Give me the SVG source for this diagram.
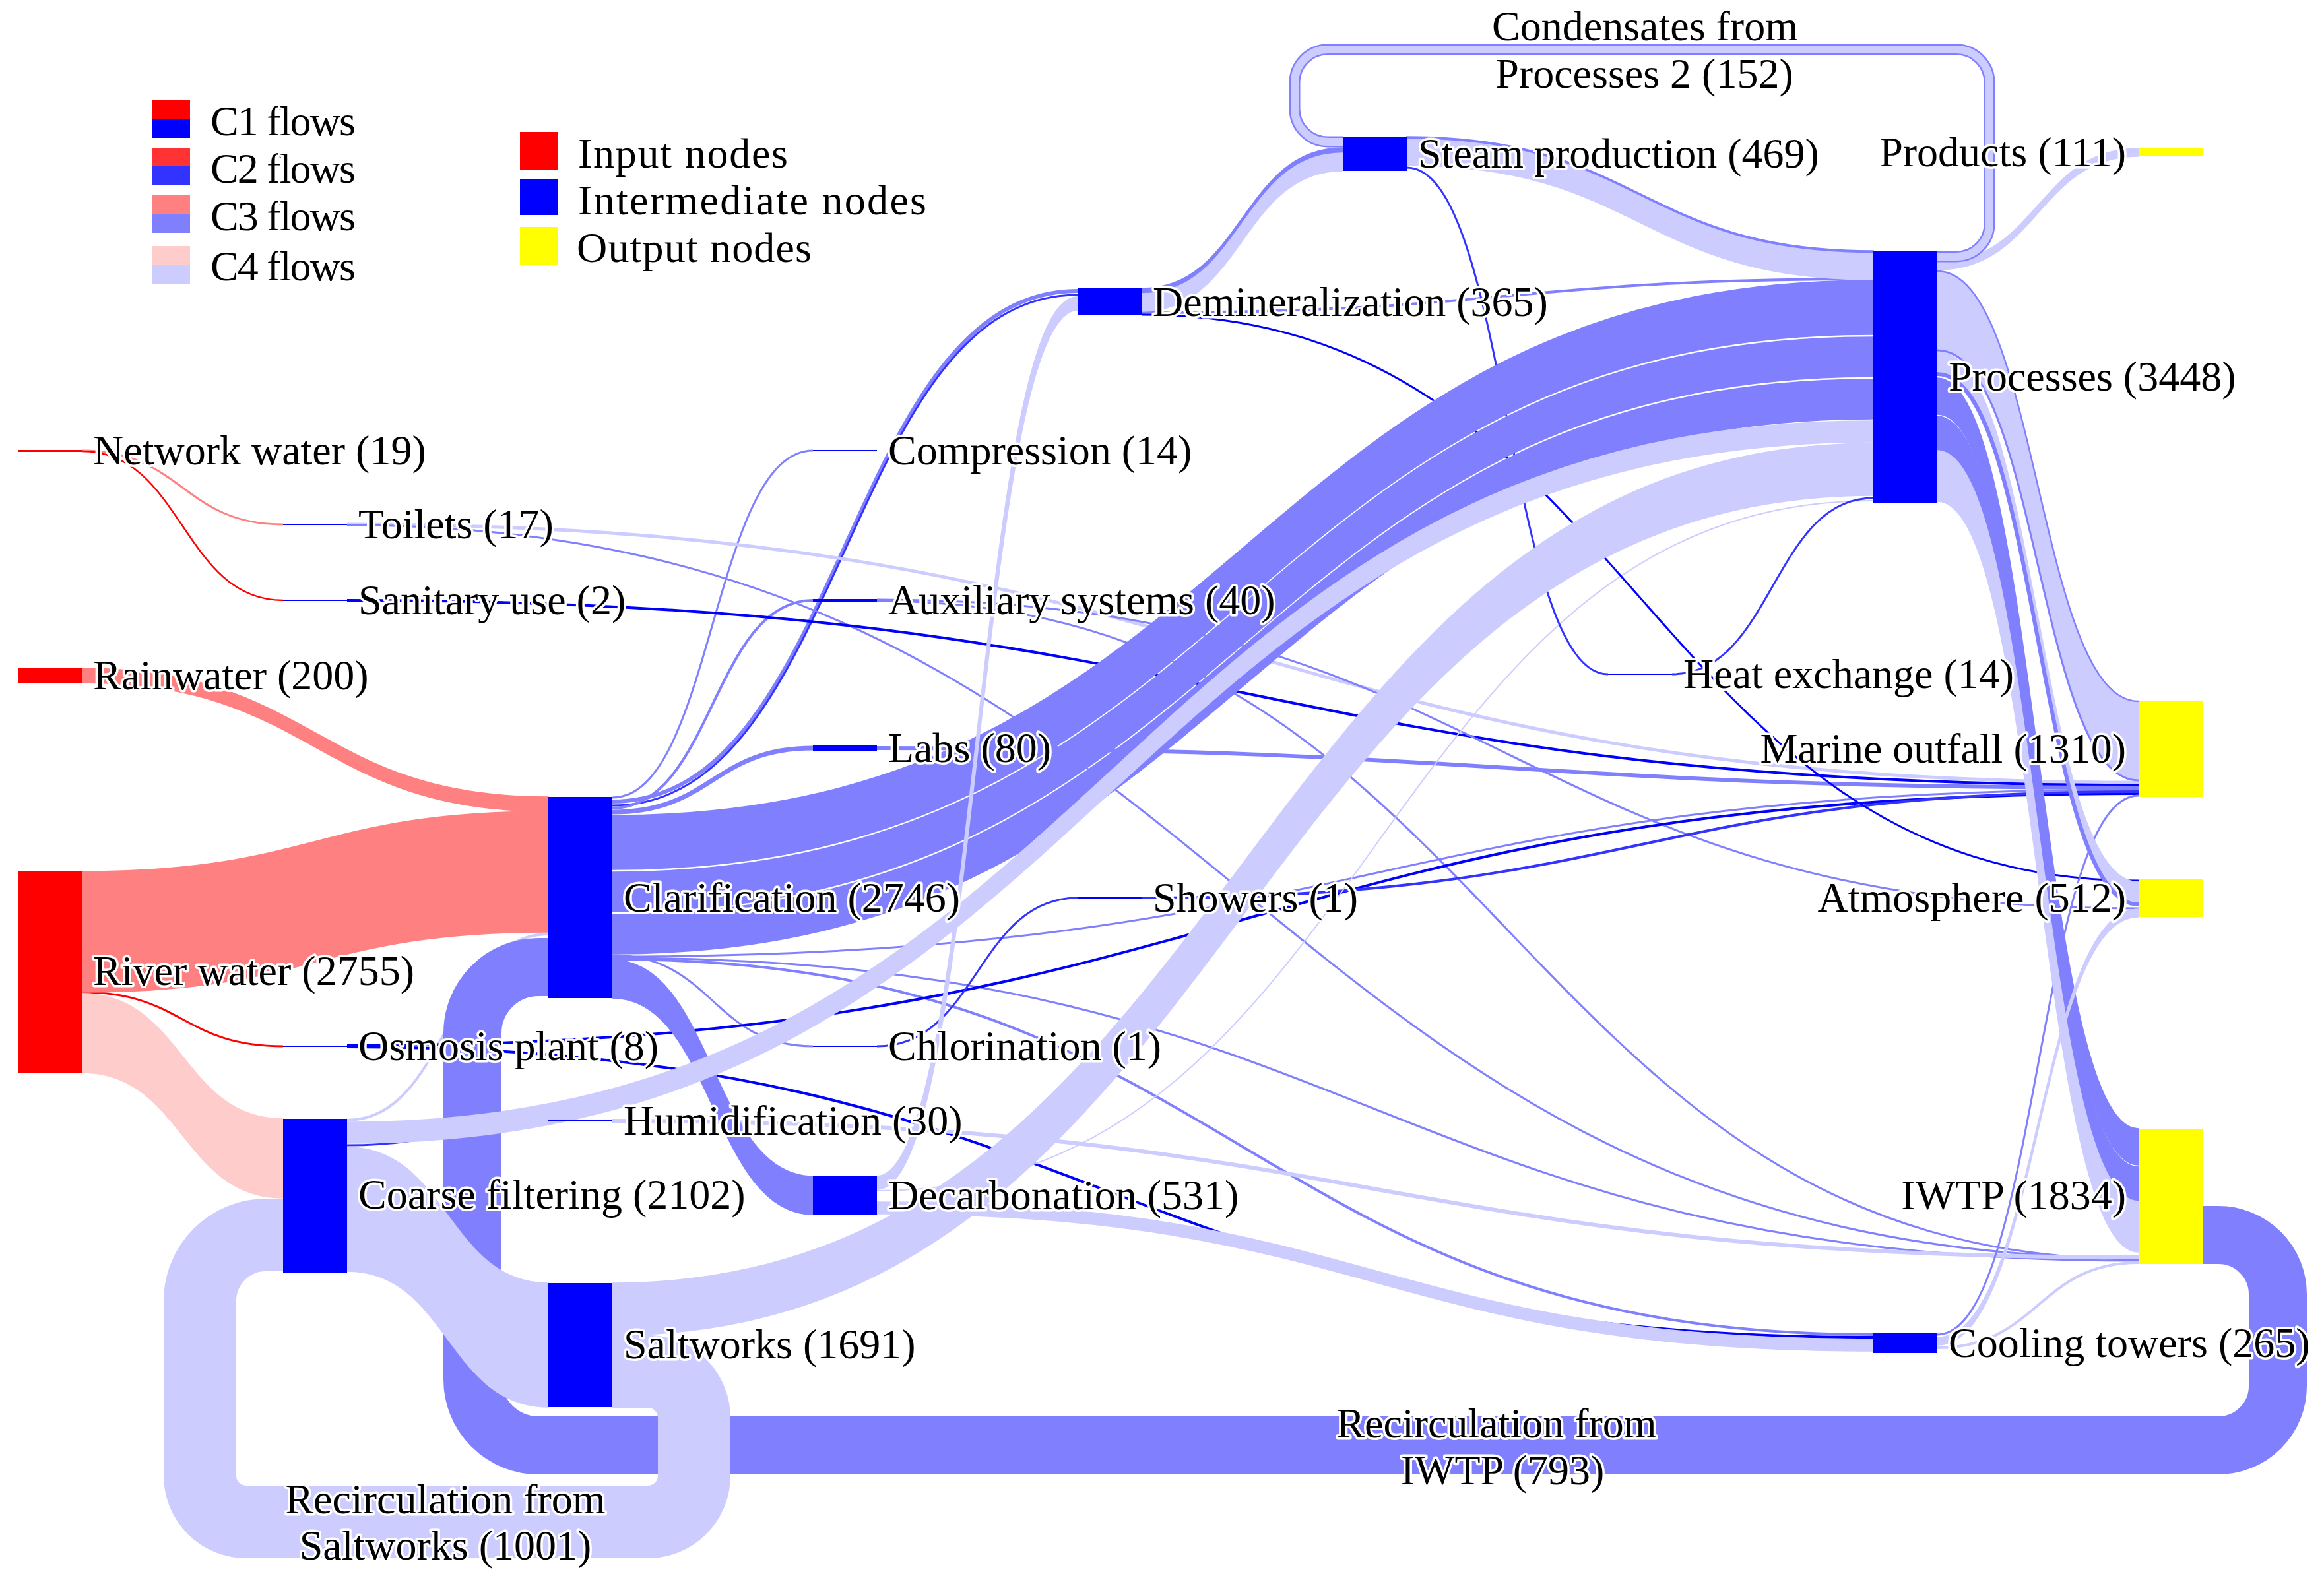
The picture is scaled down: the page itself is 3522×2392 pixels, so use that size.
<svg xmlns="http://www.w3.org/2000/svg" width="3522" height="2392" viewBox="0 0 3522 2392">
<style>
.t{font-family:"Liberation Serif","Times New Roman",serif;font-size:64px;fill:#000;stroke:#fff;stroke-width:7px;stroke-linejoin:round;paint-order:stroke}
.e{text-anchor:end}
.m{text-anchor:middle}
.s{fill:none}
.r1{stroke:#ff0000}.r3{stroke:#ff8080}
.b1{stroke:#0000ff}.b2{stroke:#3333ff}.b3{stroke:#8080ff}.b4{stroke:#ccccff}
.fr3{fill:#ff8080;stroke:#ff8080;stroke-width:1.5}
.fr4{fill:#ffcccc;stroke:#ffcccc;stroke-width:1.5}
.fb3{fill:#8080ff;stroke:#8080ff;stroke-width:1.5}
.fb4{fill:#ccccff;stroke:#ccccff;stroke-width:1.5}
.fb4t{fill:#ccccff;stroke:#ccccff;stroke-width:4}
.ni{fill:#ff0000}.nm{fill:#0000ff}.no{fill:#ffff00}
</style>
<rect width="3522" height="2392" fill="#fff"/>
<g id="legend">
<rect x="230" y="152" width="58" height="28" fill="#ff0000"/><rect x="230" y="180" width="58" height="29" fill="#0000ff"/>
<rect x="230" y="224" width="58" height="28" fill="#ff3333"/><rect x="230" y="252" width="58" height="29" fill="#3333ff"/>
<rect x="230" y="296" width="58" height="28" fill="#ff8080"/><rect x="230" y="324" width="58" height="29" fill="#8080ff"/>
<rect x="230" y="373" width="58" height="28" fill="#ffcccc"/><rect x="230" y="401" width="58" height="29" fill="#ccccff"/>
<text class="t" x="319" y="205" textLength="220" lengthAdjust="spacing">C1 flows</text>
<text class="t" x="319" y="277" textLength="220" lengthAdjust="spacing">C2 flows</text>
<text class="t" x="319" y="349" textLength="220" lengthAdjust="spacing">C3 flows</text>
<text class="t" x="319" y="425" textLength="220" lengthAdjust="spacing">C4 flows</text>
<rect x="788" y="200" width="57" height="57" fill="#ff0000"/>
<rect x="788" y="272" width="57" height="54" fill="#0000ff"/>
<rect x="788" y="344" width="57" height="57" fill="#ffff00"/>
<text class="t" x="876" y="254" textLength="318" lengthAdjust="spacing">Input nodes</text>
<text class="t" x="876" y="325" textLength="528" lengthAdjust="spacing">Intermediate nodes</text>
<text class="t" x="874" y="397" textLength="356" lengthAdjust="spacing">Output nodes</text>
</g>
<g id="links">
<g class="s">
<path class="r3" stroke-width="3" d="M124 683 C276.5 683 276.5 795 429 795"/>
<path class="r1" stroke-width="2.5" d="M124 684 C276.5 684 276.5 910 429 910"/>
<path class="r1" stroke-width="3" d="M124 1504 C276.5 1504 276.5 1586 429 1586"/>
<path class="b4" stroke-width="4" d="M526 1698 C678.5 1698 678.5 1416 831 1416"/>
<path class="b2" stroke-width="3" d="M526 1736 C678.5 1736 678.5 1699 831 1699"/>
<path class="b3" stroke-width="3" d="M928 1209 C1080 1209 1080 683 1232 683"/>
<path class="b3" stroke-width="6" d="M928 1215 C1280.5 1215 1280.5 441 1633 441"/>
<path class="b2" stroke-width="3" d="M928 1221 C1280.5 1221 1280.5 447 1633 447"/>
<path class="b3" stroke-width="4" d="M928 1225 C1080 1225 1080 910 1232 910"/>
<path class="b3" stroke-width="7" d="M928 1231 C1080 1231 1080 1134 1232 1134"/>
<path class="b3" stroke-width="3" d="M928 1448 C1080 1448 1080 1586 1232 1586"/>
<path class="b3" stroke-width="3" d="M928 1450 C2084.5 1450 2084.5 1197 3241 1197"/>
<path class="b3" stroke-width="3" d="M928 1452 C2084.5 1452 2084.5 1911 3241 1911"/>
<path class="b3" stroke-width="4" d="M928 1454 C1883.5 1454 1883.5 2023 2839 2023"/>
<path class="b4" stroke-width="5" d="M526 795 C1883.5 795 1883.5 1186 3241 1186"/>
<path class="b3" stroke-width="3" d="M526 796 C1883.5 796 1883.5 1907 3241 1907"/>
<path class="b1" stroke-width="4" d="M526 910 C1883.5 910 1883.5 1190 3241 1190"/>
<path class="b3" stroke-width="3" d="M1329 909 C2285 909 2285 1377 3241 1377"/>
<path class="b3" stroke-width="3" d="M1329 911 C2285 911 2285 1909 3241 1909"/>
<path class="b3" stroke-width="6" d="M1329 1134 C2285 1134 2285 1194 3241 1194"/>
<path class="b1" stroke-width="4" d="M526 1585 C1883.5 1585 1883.5 1203 3241 1203"/>
<path class="b1" stroke-width="4" d="M526 1587 C1682.5 1587 1682.5 2027 2839 2027"/>
<path class="b2" stroke-width="3" d="M1329 1586 C1481 1586 1481 1361 1633 1361"/>
<path class="b2" stroke-width="4" d="M1730 1361 C2485.5 1361 2485.5 1200 3241 1200"/>
<path class="b4" stroke-width="6" d="M928 1699 C2084.5 1699 2084.5 1906 3241 1906"/>
<path class="b4" stroke-width="2" d="M1329 1805 C2084 1805 2084 759 2839 759"/>
<path class="b3" stroke-width="4" d="M1730 474 C2284.5 474 2284.5 423 2839 423"/>
<path class="b1" stroke-width="3" d="M1730 477 C2485.5 477 2485.5 1335 3241 1335"/>
<path class="b2" stroke-width="3" d="M2132 254 C2284.5 254 2284.5 1022 2437 1022"/>
<path class="b2" stroke-width="3" d="M2534 1022 C2686.5 1022 2686.5 755 2839 755"/>
<path class="b3" stroke-width="3" d="M2936 2023 C3088.5 2023 3088.5 1206 3241 1206"/>
<path class="b4" stroke-width="4" d="M2936 2043 C3088.5 2043 3088.5 1914 3241 1914"/>
</g>
<path class="fr3" d="M124 1013 C477.5 1013 477.5 1208 831 1208 L831 1230 C477.5 1230 477.5 1035 124 1035Z"/>
<path class="fr3" d="M124 1321 C477.5 1321 477.5 1230 831 1230 L831 1413 C477.5 1413 477.5 1504 124 1504Z"/>
<path class="fr4" d="M124 1506 C276.5 1506 276.5 1696 429 1696 L429 1816 C276.5 1816 276.5 1626 124 1626Z"/>
<path class="fb3" d="M928 1236 C1883.5 1236 1883.5 425 2839 425 L2839 507 C1883.5 507 1883.5 1318 928 1318Z"/>
<path class="fb3" d="M928 1322 C1883.5 1322 1883.5 511 2839 511 L2839 571 C1883.5 571 1883.5 1382 928 1382Z"/>
<path class="fb3" d="M928 1386 C1883.5 1386 1883.5 575 2839 575 L2839 635 C1883.5 635 1883.5 1446 928 1446Z"/>
<path class="fb3" d="M928 1455 C1080 1455 1080 1783 1232 1783 L1232 1841 C1080 1841 1080 1513 928 1513Z"/>
<path class="fb3" d="M2936 573 C3088.5 573 3088.5 1711 3241 1711 L3241 1766 C3088.5 1766 3088.5 628 2936 628Z"/>
<path class="fb3" d="M2936 631 C3088.5 631 3088.5 1769 3241 1769 L3241 1821 C3088.5 1821 3088.5 683 2936 683Z"/>
<path class="fb3" d="M1730 437 C1882.5 437 1882.5 224 2035 224 L2035 232 C1882.5 232 1882.5 445 1730 445Z"/>
<path class="fb3" d="M2132 207 C2485.5 207 2485.5 380 2839 380 L2839 384 C2485.5 384 2485.5 211 2132 211Z"/>
<path id="loop-iwtp" class="s b3" stroke-width="88" d="M3338 1872 L3362 1872 A90 90 0 0 1 3452 1962 L3452 2101 A90 90 0 0 1 3362 2191 L816 2191 A100 100 0 0 1 716 2091 L716 1566 A100 100 0 0 1 816 1466 L831 1466"/>
<path class="fb4" d="M526 1701 C1682.5 1701 1682.5 638 2839 638 L2839 670 C1682.5 670 1682.5 1733 526 1733Z"/>
<path class="fb4" d="M526 1739 C678.5 1739 678.5 1945 831 1945 L831 2133 C678.5 2133 678.5 1927 526 1927Z"/>
<path class="fb4" d="M928 1945 C1883.5 1945 1883.5 672 2839 672 L2839 751 C1883.5 751 1883.5 2024 928 2024Z"/>
<path class="fb4" d="M2132 211 C2485.5 211 2485.5 384 2839 384 L2839 424 C2485.5 424 2485.5 251 2132 251Z"/>
<path class="fb4" d="M1730 445 C1882.5 445 1882.5 232 2035 232 L2035 259 C1882.5 259 1882.5 472 1730 472Z"/>
<path class="fb4t" d="M1329 1784 C1481 1784 1481 451 1633 451 L1633 469 C1481 469 1481 1802 1329 1802Z"/>
<path class="fb4" d="M1329 1822 C2084 1822 2084 2030 2839 2030 L2839 2048 C2084 2048 2084 1840 1329 1840Z"/>
<path class="fb4" d="M2936 411 C3088.5 411 3088.5 1063 3241 1063 L3241 1183 C3088.5 1183 3088.5 531 2936 531Z"/>
<path class="fb4" d="M2936 533 C3088.5 533 3088.5 1337 3241 1337 L3241 1367 C3088.5 1367 3088.5 563 2936 563Z"/>
<path class="fb4" d="M2936 683 C3088.5 683 3088.5 1821 3241 1821 L3241 1898 C3088.5 1898 3088.5 760 2936 760Z"/>
<path class="fb4" d="M2936 397 C3088.5 397 3088.5 225 3241 225 L3241 237 C3088.5 237 3088.5 409 2936 409Z"/>
<path class="fb4" d="M2936 2027 C3088.5 2027 3088.5 1378 3241 1378 L3241 1390 C3088.5 1390 3088.5 2039 2936 2039Z"/>
<g class="s b3">
<path stroke-width="2.5" d="M2936 411 C3088.5 411 3088.5 1063 3241 1063"/>
<path stroke-width="3" d="M2936 531 C3088.5 531 3088.5 1183 3241 1183"/>
<path stroke-width="6" d="M2936 567 C3088.5 567 3088.5 1371 3241 1371"/>
</g>
<path id="loop-saltworks" class="s b4" stroke-width="110" d="M928 2079 L982 2079 A70 70 0 0 1 1052 2149 L1052 2237 A70 70 0 0 1 982 2307 L373 2307 A70 70 0 0 1 303 2237 L303 1972 A100 100 0 0 1 403 1872 L429 1872"/>
<g id="loop-condensates" class="s">
<path class="b3" stroke-width="17" d="M2936 389 L2965 389 A50 50 0 0 0 3015 339 L3015 125 A50 50 0 0 0 2965 75 L2012 75 A50 50 0 0 0 1962 125 L1962 165 A50 50 0 0 0 2012 215 L2035 215"/>
<path class="b4" stroke-width="12" d="M2936 389 L2965 389 A50 50 0 0 0 3015 339 L3015 125 A50 50 0 0 0 2965 75 L2012 75 A50 50 0 0 0 1962 125 L1962 165 A50 50 0 0 0 2012 215 L2035 215"/>
</g>
<text class="t m" x="2493" y="61">Condensates from</text>
<text class="t m" x="2492" y="133">Processes 2 (152)</text>
<text class="t m" x="2268" y="2179">Recirculation from</text>
<text class="t m" x="2277" y="2250">IWTP (793)</text>
<text class="t m" x="675" y="2294">Recirculation from</text>
<text class="t m" x="675" y="2364">Saltworks (1001)</text>
</g>
<g id="node-network-water"><rect class="ni" x="27" y="682" width="97" height="3"/><text class="t" x="141" y="704">Network water (19)</text></g>
<g id="node-rainwater"><rect class="ni" x="27" y="1013" width="97" height="22"/><text class="t" x="141" y="1045">Rainwater (200)</text></g>
<g id="node-river-water"><rect class="ni" x="27" y="1321" width="97" height="305"/><text class="t" x="141" y="1493">River water (2755)</text></g>
<g id="node-toilets"><rect class="nm" x="429" y="794" width="97" height="2"/><text class="t" x="543" y="816">Toilets (17)</text></g>
<g id="node-sanitary-use"><rect class="nm" x="429" y="909" width="97" height="2"/><text class="t" x="543" y="931">Sanitary use (2)</text></g>
<g id="node-osmosis-plant"><rect class="nm" x="429" y="1585" width="97" height="2"/><text class="t" x="543" y="1607">Osmosis plant (8)</text></g>
<g id="node-coarse-filtering"><rect class="nm" x="429" y="1696" width="97" height="233"/><text class="t" x="543" y="1832">Coarse filtering (2102)</text></g>
<g id="node-clarification"><rect class="nm" x="831" y="1208" width="97" height="305"/><text class="t" x="945" y="1382">Clarification (2746)</text></g>
<g id="node-humidification"><rect class="nm" x="831" y="1697" width="97" height="3"/><text class="t" x="945" y="1720">Humidification (30)</text></g>
<g id="node-saltworks"><rect class="nm" x="831" y="1945" width="97" height="188"/><text class="t" x="945" y="2059">Saltworks (1691)</text></g>
<g id="node-compression"><rect class="nm" x="1232" y="682" width="97" height="2"/><text class="t" x="1346" y="704">Compression (14)</text></g>
<g id="node-auxiliary-systems"><rect class="nm" x="1232" y="908" width="97" height="4"/><text class="t" x="1346" y="931">Auxiliary systems (40)</text></g>
<g id="node-labs"><rect class="nm" x="1232" y="1130" width="97" height="9"/><text class="t" x="1346" y="1155">Labs (80)</text></g>
<g id="node-chlorination"><rect class="nm" x="1232" y="1585" width="97" height="2"/><text class="t" x="1346" y="1607">Chlorination (1)</text></g>
<g id="node-decarbonation"><rect class="nm" x="1232" y="1783" width="97" height="59"/><text class="t" x="1346" y="1833">Decarbonation (531)</text></g>
<g id="node-demineralization"><rect class="nm" x="1633" y="437" width="97" height="41"/><text class="t" x="1747" y="479">Demineralization (365)</text></g>
<g id="node-showers"><rect class="nm" x="1633" y="1360" width="97" height="2"/><text class="t" x="1747" y="1382">Showers (1)</text></g>
<g id="node-steam-production"><rect class="nm" x="2035" y="207" width="97" height="52"/><text class="t" x="2149" y="254">Steam production (469)</text></g>
<g id="node-heat-exchange"><rect class="nm" x="2437" y="1021" width="97" height="2"/><text class="t" x="2551" y="1043">Heat exchange (14)</text></g>
<g id="node-processes"><rect class="nm" x="2839" y="380" width="97" height="383"/><text class="t" x="2953" y="592">Processes (3448)</text></g>
<g id="node-cooling-towers"><rect class="nm" x="2839" y="2021" width="97" height="30"/><text class="t" x="2953" y="2057">Cooling towers (265)</text></g>
<g id="node-products"><rect class="no" x="3241" y="225" width="97" height="12"/><text class="t e" x="3222" y="252">Products (111)</text></g>
<g id="node-marine-outfall"><rect class="no" x="3241" y="1063" width="97" height="145"/><text class="t e" x="3222" y="1156">Marine outfall (1310)</text></g>
<g id="node-atmosphere"><rect class="no" x="3241" y="1333" width="97" height="57"/><text class="t e" x="3222" y="1382">Atmosphere (512)</text></g>
<g id="node-iwtp"><rect class="no" x="3241" y="1711" width="97" height="205"/><text class="t e" x="3222" y="1833">IWTP (1834)</text></g>
</svg>
